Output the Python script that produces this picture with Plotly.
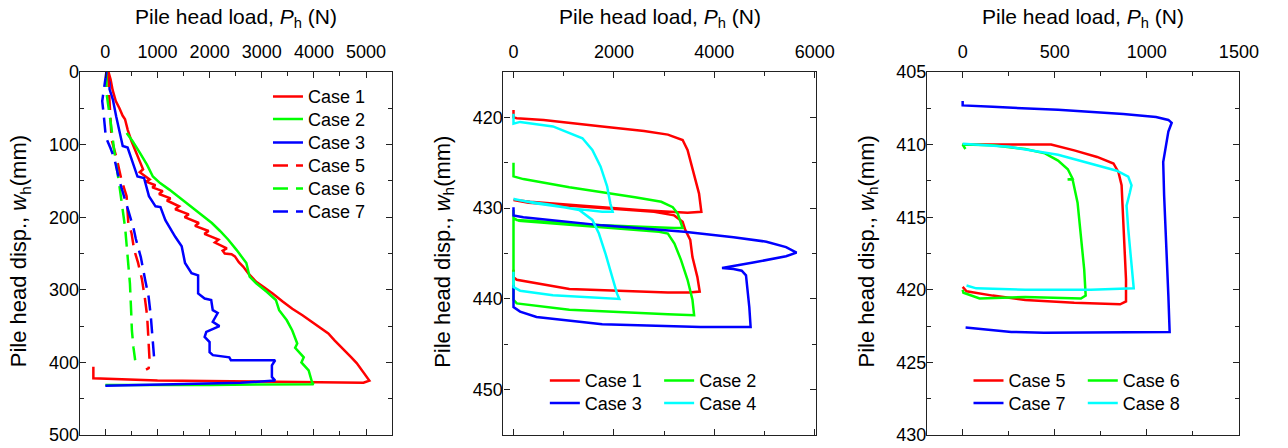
import plotly.graph_objects as go

# ---------------- Panel (a): monotonic loading ----------------
c1a_P = [60, 100, 140, 200, 270, 330, 377, 430, 500, 597, 650, 723, 660, 849, 780, 960, 900, 1100, 1030,
         1250, 1180, 1415, 1340, 1600, 1520, 1793, 1720, 1980, 1900, 2170, 2100, 2330, 2250, 2290, 2420,
         2484, 2560, 2642, 2750, 2893, 3050, 3208, 3400, 3585, 3780, 3963, 4120, 4276, 4400, 4528, 4620,
         4717, 4820, 4906, 4980, 5063, 4950, 3000, 1000, -230, -230]
c1a_w = [0, 10, 25, 40, 50, 60, 65, 80, 95, 111, 120, 134, 138, 148, 151, 156, 159, 164, 168,
         174, 177, 185, 189, 196, 200, 208, 212, 219, 223, 231, 235, 243, 246, 250, 251,
         254, 262, 268, 278, 289, 297, 305, 316, 326, 335, 344, 352, 360, 370, 379, 386,
         393, 401, 409, 417, 425, 428, 427, 425, 422, 406]

c2a_P = [408, 520, 660, 800, 911, 1050, 1226, 1420, 1604, 1820, 2043, 2200, 2358, 2515, 2672, 2704,
         2767, 2893, 3100, 3270, 3333, 3480, 3585, 3680, 3640, 3805, 3760, 3899, 3963, 3993, 2000, 0]
c2a_w = [84, 95, 111, 128, 144, 153, 162, 173, 183, 195, 208, 219, 231, 245, 259, 263,
         282, 291, 303, 314, 328, 342, 356, 374, 380, 393, 400, 411, 427, 430, 431, 431]

c3a_P = [19, 81, 81, 144, 207, 270, 333, 427, 521, 616, 742, 836, 962, 1057, 1151, 1340, 1464, 1495,
         1528, 1653, 1779, 1779, 1904, 2030, 2060, 2155, 2060, 2188, 1936, 1904, 1999, 1999, 2062, 2377,
         2408, 3257, 3194, 3194, 3257, 2597, 0]
c3a_w = [1, 15, 24, 38, 61, 84, 102, 104, 125, 144, 146, 171, 185, 186, 204, 227, 240, 252,
         263, 277, 280, 305, 312, 314, 328, 332, 344, 350, 358, 365, 372, 386, 390, 393,
         397, 397, 404, 420, 425, 428, 432]

c5a_P = [50, 80, 120, 220, 314, 408, 440, 502, 553, 628, 700, 755, 800, 817, 836, 850, 830, 780]
c5a_w = [0, 40, 93, 120, 150, 171, 208, 222, 245, 263, 285, 310, 335, 356, 380, 400, 408, 410]

c6a_P = [20, 20, 113, 175, 270, 333, 380, 410, 450, 471, 495, 509, 540, 572]
c6a_w = [0, 28, 75, 111, 157, 190, 215, 240, 270, 291, 330, 356, 380, 397]

c7a_P = [20, -20, -60, -30, 10, 100, 175, 270, 396, 460, 540, 585, 680, 760, 830, 870, 900, 930, 940]
c7a_w = [0, 20, 40, 60, 90, 105, 120, 150, 180, 198, 215, 230, 255, 285, 310, 335, 360, 390, 398]

# ---------------- Panel (b): cyclic loading, Cases 1-4 ----------------
c1b_P = [0, 0, 65, 600, 1766, 2600, 3074, 3368, 3466, 3597, 3695, 3741, 3466, 2500, 1766, 327, 33, 0,
         300, 1500, 2800, 3200, 3368, 3420, 3520, 3564, 3662, 3708, 3500, 3074, 1112, 65, 0, 0]
c1b_w = [419.2, 420, 420.1, 420.3, 421, 421.5, 421.9, 422.5, 423.6, 426.2, 428.4, 430.4, 430.5, 430.2,
         429.9, 429.3, 429.1, 429.1, 429.4, 429.9, 430.4, 430.8, 431.5, 432.4, 433.5, 435.4, 437.6,
         439.2, 439.3, 439.3, 438.9, 437.9, 437.6, 436.8]

c2b_P = [0, 0, 196, 1112, 2420, 2943, 3172, 3270, 3368, 3205, 1766, 65, 0, 100, 1500, 2900, 3074, 3205,
         3335, 3466, 3564, 3597, 3074, 1112, 65, 0, 0]
c2b_w = [425, 426.5, 426.8, 427.7, 428.8, 429.3, 429.9, 430.6, 432.2, 432.2, 431.9, 431.3, 431.1, 431.4,
         432, 432.6, 432.8, 433.9, 435.7, 437.9, 440.1, 441.8, 441.7, 441.2, 440.5, 440.1, 430.2]

c3b_P = [0, 0, 196, 1766, 3401, 4382, 5036, 5428, 5637, 5428, 4774, 4153, 4382, 4545, 4630, 4656, 4696,
         4722, 3728, 1766, 458, 131, 0, 0]
c3b_w = [429.9, 430.8, 431, 431.9, 432.6, 433.2, 433.7, 434.3, 434.9, 435.3, 436, 436.6, 436.7, 436.9,
         437.4, 438.7, 440.9, 443.1, 443.1, 442.8, 442, 441.4, 440.9, 438.5]

c4b_P = [0, 0, 131, 785, 1373, 1570, 1733, 1864, 1929, 1975, 1766, 1112, 458, 0, 200, 700, 1112, 1308,
         1570, 1701, 1831, 1962, 2060, 2106, 1766, 785, 131, 0, 0]
c4b_w = [419.6, 420.7, 420.5, 421, 422.3, 423.6, 425.4, 427.6, 429.5, 430.4, 430.4, 430, 429.5, 429,
         429.2, 429.6, 430, 430.2, 431.3, 432.8, 435, 437.6, 439.4, 440, 439.9, 439.6, 439.1, 438.7, 437]

# ---------------- Panel (c): cyclic loading, Cases 5-8 ----------------
c5c_P = [0, 252, 394, 480, 606, 730, 819, 846, 863, 869, 878, 887, 887, 855, 606, 340, 163, 21, 0]
c5c_w = [410, 410, 410.05, 410, 410.4, 410.85, 411.3, 411.9, 412.8, 414.65, 417, 419.3, 420.8, 421,
         420.9, 420.7, 420.4, 420.1, 419.8]

c6c_P = [15, 0, 163, 340, 447, 518, 571, 597, 570, 597, 624, 642, 660, 668, 642, 340, 92, 4, 0]
c6c_w = [410.3, 410, 410.05, 410.3, 410.6, 411.1, 411.7, 412.35, 412.4, 412.4, 414, 416.3, 418.6,
         420.4, 420.6, 420.5, 420.6, 420.2, 420]

c7c_P = [0, 0, 163, 518, 872, 1050, 1117, 1135, 1117, 1103, 1089, 1094, 1103, 1112, 1117, 1124, 441, 264, 16]
c7c_w = [407, 407.3, 407.4, 407.6, 407.9, 408.1, 408.3, 408.5, 409.1, 410.05, 411.2, 413.5, 415.8,
         418.1, 420.4, 422.9, 422.95, 422.9, 422.6]

c8c_P = [0, 252, 518, 695, 837, 899, 917, 908, 890, 899, 917, 929, 695, 340, 74, 21]
c8c_w = [409.95, 410.15, 410.7, 411.3, 411.8, 412.2, 412.8, 413.3, 414.2, 415.8, 418.1, 419.9, 420,
         420, 419.9, 419.7]

RED, GREEN, BLUE, CYAN = "#FF0000", "#00FF00", "#0000FF", "#00FFFF"
FONT = "Liberation Sans, Arial, sans-serif"
W, H = 1288, 448
T, B = 72, 13
PH = H - T - B

fig = go.Figure()

series = [
    (c1a_P, c1a_w, "Case 1", RED, "solid", "x", "y"),
    (c2a_P, c2a_w, "Case 2", GREEN, "solid", "x", "y"),
    (c3a_P, c3a_w, "Case 3", BLUE, "solid", "x", "y"),
    (c5a_P, c5a_w, "Case 5", RED, "15px,8px", "x", "y"),
    (c6a_P, c6a_w, "Case 6", GREEN, "15px,8px", "x", "y"),
    (c7a_P, c7a_w, "Case 7", BLUE, "15px,8px", "x", "y"),
    (c1b_P, c1b_w, "Case 1", RED, "solid", "x2", "y2"),
    (c2b_P, c2b_w, "Case 2", GREEN, "solid", "x2", "y2"),
    (c3b_P, c3b_w, "Case 3", BLUE, "solid", "x2", "y2"),
    (c4b_P, c4b_w, "Case 4", CYAN, "solid", "x2", "y2"),
    (c5c_P, c5c_w, "Case 5", RED, "solid", "x3", "y3"),
    (c6c_P, c6c_w, "Case 6", GREEN, "solid", "x3", "y3"),
    (c7c_P, c7c_w, "Case 7", BLUE, "solid", "x3", "y3"),
    (c8c_P, c8c_w, "Case 8", CYAN, "solid", "x3", "y3"),
]

# legend text-start pixel positions (x) and row centres (y)
leg_pos = [(312, 96.7), (312, 119.3), (312, 142.7), (312, 165.7), (312, 188.7), (312, 211.7),
           (593, 380.7), (709, 380.7), (593, 403.3), (709, 403.3),
           (1023, 380.7), (1139, 380.7), (1023, 403.3), (1139, 403.3)]

layout_legends = {}
for i, (P, w, name, col, dash, xa, ya) in enumerate(series):
    lid = "legend" if i == 0 else f"legend{i+1}"
    fig.add_trace(go.Scatter(x=P, y=w, mode="lines", name=name, xaxis=xa, yaxis=ya,
                             line=dict(color=col, width=2.5, dash=dash),
                             legend=lid, showlegend=True, hoverinfo="skip"))
    tx, ty = leg_pos[i]
    layout_legends[lid] = dict(x=(tx - 40) / W, y=(T + PH - ty) / PH, xanchor="left", yanchor="middle",
                               bgcolor="rgba(0,0,0,0)", borderwidth=0,
                               font=dict(family=FONT, size=18, color="#000"))

doms = [(81, 398), (511, 828), (941, 1258)]
xranges = [[-490, 5500], [-200, 6020], [-193, 1503]]
xdt = [(1000, 500), (2000, 1000), (500, 250)]
yranges = [[500, 0], [455, 415], [430, 405]]
ydt = [(100, 50), (10, 5), (5, 2.5)]

axcommon = dict(showline=True, linecolor="#222", linewidth=1.3, mirror="ticks", ticks="inside",
                ticklen=6, tickwidth=1.3, tickcolor="#222", showgrid=False, zeroline=False,
                tickfont=dict(family=FONT, size=18, color="#000"), tick0=0)

lay = dict(width=W, height=H, margin=dict(l=0, r=0, t=T, b=B), paper_bgcolor="white",
           plot_bgcolor="white", font=dict(family=FONT, color="#000"))
annotations = []
for k in range(3):
    sx = "" if k == 0 else str(k + 1)
    d0, d1 = doms[k]
    lay["xaxis" + sx] = dict(axcommon, domain=[d0 / W, d1 / W], anchor="y" + sx, side="top",
                             range=xranges[k], dtick=xdt[k][0], ticklabelstandoff=6,
                             minor=dict(dtick=xdt[k][1], ticks="inside", ticklen=4, tickwidth=1.3,
                                        tickcolor="#222", tick0=0, showgrid=False))
    lay["yaxis" + sx] = dict(axcommon, domain=[0, 1], anchor="x" + sx, ticklabelstandoff=-4,
                             range=yranges[k], dtick=ydt[k][0],
                             minor=dict(dtick=ydt[k][1], ticks="inside", ticklen=4, tickwidth=1.3,
                                        tickcolor="#222", tick0=0, showgrid=False))
    annotations.append(dict(text="Pile head load, <i>P</i><sub>h</sub> (N)", xref="paper", yref="paper",
                            x=(d0 + d1) / 2 / W, y=1 + (T - 18) / PH, xanchor="center", yanchor="middle",
                            showarrow=False, font=dict(family=FONT, size=21, color="#000")))
    annotations.append(dict(text="Pile head disp., <i>w</i><sub>h</sub>(mm)", xref="paper", yref="paper",
                            x=(d0 - 61) / W, y=(T + PH - 251.5) / PH, xanchor="center", yanchor="middle",
                            textangle=-90, showarrow=False, font=dict(family=FONT, size=22, color="#000")))
lay["annotations"] = annotations
lay.update(layout_legends)
fig.update_layout(**lay)

fig.write_html("out.html", config={"displayModeBar": False},
               post_script="document.body.style.margin='0';document.body.style.overflow='hidden';")
